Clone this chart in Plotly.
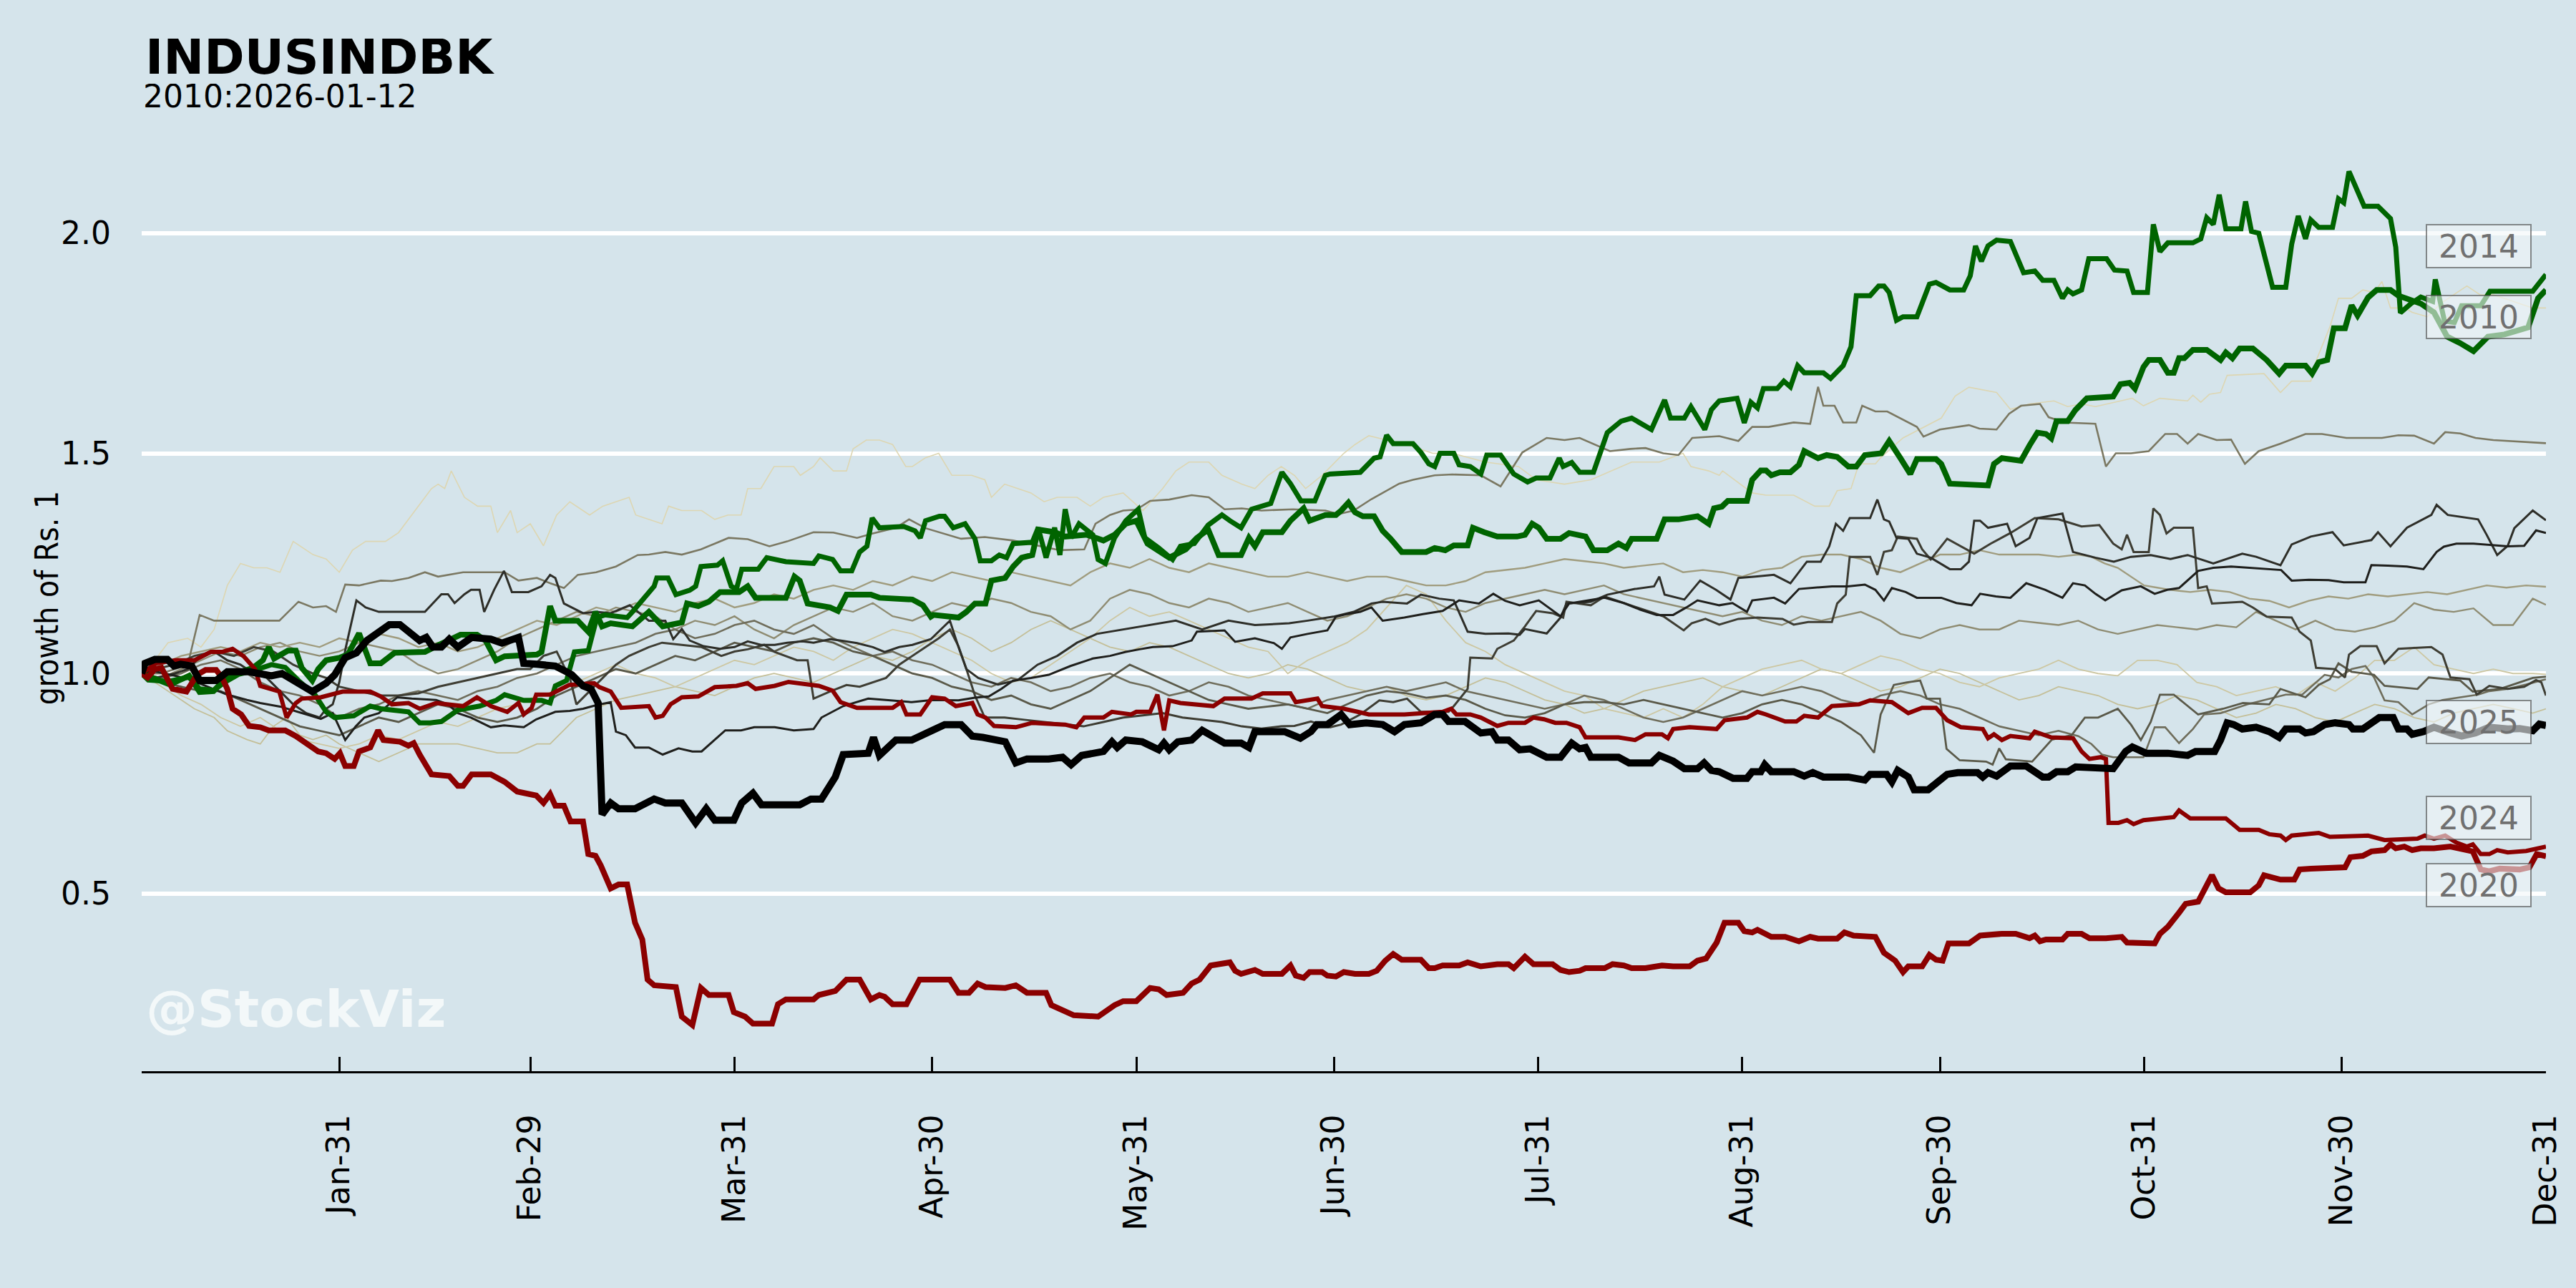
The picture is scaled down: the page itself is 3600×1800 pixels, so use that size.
import plotly.graph_objects as go

# ---------------- data (day-of-year, growth of Rs. 1) ----------------
tick_days = [31, 60, 91, 121, 152, 182, 213, 244, 274, 305, 335, 366]
tick_labels = ["Jan-31", "Feb-29", "Mar-31", "Apr-30", "May-31", "Jun-30",
               "Jul-31", "Aug-31", "Sep-30", "Oct-31", "Nov-30", "Dec-31"]

d2025 = [1,1.5,3.0,4.9,5.9,6.9,8.6,9.8,12.3,14.0,17.3,20.7,22.3,24.8,26.9,29.0,30.3,31.9,33.6,35.2,37.3,38.6,40.2,41.5,43.2,44.2,45.2,46.5,47.7,49.0,51.1,54.0,55.7,58.2,59.0,61.0,
         63.0,63.8,65.5,66.3,68.0,69.2,70.3,70.9,72.2,73.4,75.9,78.8,80.5,83.0,85.1,86.7,88.0,90.9,92.1,93.8,95.1,97.1,100.9,102.6,104.2,106.3,107.5,111.3,112.1,113.0,114.6,115.5,
         117.9,120.4,122.9,125.4,127.1,128.7,130.4,132.1,133.7,135.4,138.7,140.8,142.1,143.7,147.0,148.3,149.1,150.4,152.9,154.5,155.4,156.2,157.0,158.3,160.4,162.0,163.7,165.4,167.9,169.1,170.0,171.6,174.5,
         176.9,178.5,179.4,181.0,183.1,184.4,186.9,189.4,191.2,192.7,195.2,197.3,198.5,199.4,201.9,204.3,206.0,206.8,208.5,210.2,211.8,213.5,214.3,216.4,218.1,219.3,220.2,221.0,225.2,226.8,230.2,231.4,233.5,235.2,
         237.2,238.2,239.3,240.5,242.6,244.7,245.5,246.8,247.4,248.4,251.8,253.4,254.7,256.3,260.1,262.6,263.4,265.9,266.7,267.6,269.2,270.1,272.2,275.1,276.7,279.7,280.5,281.3,282.6,284.7,287.1,289.6,290.5,291.7,293.4,294.6,297.6,300.3,
         302.2,303.2,305.3,308.6,311.6,312.8,315.7,316.6,317.6,318.6,319.9,322.0,324.0,325.5,326.5,328.6,329.5,330.7,332.4,334.0,336.1,336.7,338.2,339.9,340.7,342.8,343.6,344.9,345.7,347.4,349.0,351.5,353.2,355.3,357.4,360.2,362.0,364.0,365.0,366]
v2025 = [1.0,1.023,1.032,1.032,1.017,1.021,1.017,0.984,0.984,1.004,1.004,0.995,1.0,0.978,0.959,0.978,0.997,1.036,1.047,1.075,1.095,1.111,1.111,1.095,1.075,1.082,1.06,1.06,1.078,1.06,1.082,1.078,1.069,1.082,1.023,1.021,
         1.021,1.017,1.004,0.997,0.972,0.965,0.933,0.68,0.706,0.693,0.693,0.715,0.706,0.706,0.661,0.693,0.667,0.667,0.706,0.728,0.702,0.702,0.702,0.715,0.715,0.765,0.816,0.819,0.855,0.814,0.836,0.849,
         0.849,0.868,0.884,0.884,0.858,0.855,0.849,0.845,0.797,0.806,0.806,0.810,0.793,0.814,0.823,0.845,0.832,0.849,0.845,0.836,0.827,0.842,0.827,0.845,0.849,0.871,0.858,0.842,0.842,0.832,0.868,0.868,0.868,
         0.853,0.868,0.884,0.884,0.907,0.884,0.888,0.884,0.868,0.884,0.888,0.907,0.907,0.891,0.891,0.865,0.868,0.849,0.849,0.827,0.829,0.819,0.810,0.810,0.842,0.829,0.832,0.810,0.810,0.797,0.797,0.814,0.801,0.784,
         0.784,0.797,0.780,0.777,0.762,0.762,0.777,0.777,0.793,0.777,0.777,0.767,0.775,0.765,0.765,0.758,0.771,0.771,0.754,0.780,0.765,0.736,0.736,0.771,0.775,0.775,0.765,0.775,0.767,0.790,0.790,0.765,0.765,0.777,0.777,0.788,0.788,0.784,
         0.823,0.833,0.819,0.819,0.814,0.823,0.823,0.849,0.888,0.884,0.874,0.878,0.868,0.855,0.874,0.874,0.865,0.868,0.884,0.888,0.884,0.874,0.874,0.894,0.900,0.900,0.874,0.874,0.862,0.868,0.878,0.865,0.858,0.865,0.878,0.874,0.875,0.870,0.885,0.882]

d2020 = [1,1.9,3.0,4.0,5.7,7.8,8.6,9.4,10.7,12.3,13.2,14.0,14.8,16.1,17.3,19.0,20.3,22.8,24.4,26.5,27.8,29.0,30.3,31.1,31.9,33.2,34.0,35.7,36.9,37.7,40.2,41.5,42.3,43.2,45.0,47.7,49.0,49.8,51.1,54.0,56.1,58.0,
         60.9,62.0,63.0,63.8,65.1,66.1,68.0,68.8,69.9,70.7,72.2,73.4,74.7,75.9,77.0,77.8,78.8,82.1,83.0,84.6,85.9,87.1,90.1,90.9,92.6,93.8,96.7,97.6,98.8,103.0,103.8,106.3,108.0,110.0,111.7,113.0,113.8,115.0,117.1,
         119.1,123.7,125.0,126.6,127.9,129.1,132.1,133.7,135.4,138.3,139.1,142.5,146.2,148.7,150.0,152.0,154.1,155.4,156.6,159.1,160.4,161.6,163.3,166.2,167.0,167.9,170.0,171.2,174.1,175.4,176.2,177.4,178.3,
         180.2,181.0,182.3,183.5,185.2,187.3,188.5,189.8,191.0,192.3,195.2,196.4,197.3,198.5,201.0,202.3,204.3,206.8,208.5,209.3,211.0,212.3,215.2,216.4,217.7,219.3,220.2,223.1,224.3,226.0,227.2,229.3,231.8,233.5,236.0,237.2,238.5,
         240.1,241.3,243.4,244.3,245.5,246.3,248.4,250.5,252.6,254.3,255.5,258.4,259.5,260.9,264.2,265.5,267.2,268.4,269.2,271.3,272.4,273.4,274.4,275.3,278.4,280.1,283.4,285.5,287.6,288.4,289.2,290.1,292.6,293.4,295.5,296.7,299.2,
         301.6,302.4,306.6,307.4,308.6,310.3,311.3,313.2,314.1,315.3,316.3,317.4,321.1,322.4,323.2,325.7,327.8,328.6,330.3,332.8,335.5,336.3,338.2,339.5,341.5,342.4,343.2,344.5,345.7,347.0,349.0,351.5,353.2,354.9,356.1,357.4,359.0,360.2,362.0,363.5,364.6,366]
v2020 = [1.0,0.991,1.010,1.013,0.965,0.959,0.978,0.997,1.008,1.008,0.991,0.965,0.920,0.907,0.881,0.878,0.871,0.871,0.858,0.836,0.823,0.819,0.806,0.819,0.790,0.790,0.823,0.832,0.871,0.849,0.845,0.836,0.842,0.816,0.771,0.767,0.745,0.745,0.771,0.771,0.754,0.732,
         0.723,0.706,0.726,0.700,0.700,0.664,0.664,0.590,0.586,0.564,0.512,0.521,0.521,0.434,0.396,0.305,0.292,0.288,0.221,0.202,0.286,0.270,0.270,0.231,0.221,0.205,0.205,0.249,0.260,0.260,0.270,0.279,0.305,0.305,0.260,0.270,0.266,0.249,0.249,
         0.305,0.305,0.275,0.275,0.296,0.288,0.286,0.292,0.275,0.275,0.247,0.224,0.221,0.247,0.256,0.256,0.286,0.283,0.270,0.275,0.296,0.305,0.337,0.344,0.325,0.318,0.327,0.318,0.318,0.337,0.314,0.309,0.322,
         0.322,0.314,0.312,0.322,0.318,0.318,0.325,0.348,0.363,0.350,0.350,0.331,0.331,0.337,0.337,0.344,0.335,0.340,0.340,0.331,0.357,0.340,0.340,0.327,0.322,0.325,0.331,0.331,0.340,0.337,0.331,0.331,0.337,0.335,0.335,0.348,0.353,
         0.389,0.434,0.434,0.415,0.412,0.418,0.402,0.402,0.392,0.402,0.398,0.398,0.412,0.405,0.402,0.366,0.348,0.322,0.335,0.335,0.361,0.350,0.348,0.387,0.387,0.405,0.409,0.409,0.399,0.405,0.392,0.396,0.396,0.409,0.409,0.399,0.399,
         0.402,0.389,0.387,0.409,0.425,0.457,0.477,0.482,0.506,0.542,0.512,0.503,0.503,0.519,0.542,0.532,0.532,0.555,0.557,0.560,0.560,0.583,0.586,0.596,0.599,0.612,0.603,0.607,0.599,0.603,0.603,0.607,0.603,0.596,0.555,0.551,0.557,0.557,0.555,0.56,0.59,0.585]

d2024 = [1,3.2,6.1,9.0,11.5,13.2,14.8,16.5,18.2,19.0,21.9,23.0,24.4,25.3,28.2,31.5,35.7,37.3,39.0,41.5,43.2,45.7,49.8,51.9,54.0,56.5,58.2,59.0,60.2,
         60.9,63.0,65.9,69.7,70.5,72.2,73.8,78.0,79.0,80.1,81.3,83.0,85.5,88.0,91.3,93.0,94.2,97.1,99.2,103.8,105.9,107.1,109.6,115.0,116.3,117.1,119.2,121.0,
         122.9,124.6,127.1,127.9,129.1,130.4,133.7,136.2,141.2,142.9,144.1,147.0,148.3,151.2,152.0,154.1,155.2,156.2,157.0,158.7,163.7,165.4,169.5,171.2,175.4,176.2,179.5,
         180.2,183.5,185.6,187.3,192.7,198.5,199.8,200.6,202.7,204.3,206.8,208.5,211.0,212.3,213.9,215.6,217.3,219.3,220.2,225.2,227.7,229.3,231.8,232.7,233.5,236.0,
         240.1,241.3,244.7,246.3,247.6,250.5,252.2,253.4,255.5,257.6,261.7,263.4,266.7,268.4,269.2,271.3,273.4,275.1,277.2,280.5,281.3,282.2,283.4,284.7,287.6,288.4,290.9,294.2,295.5,296.7,298.4,299.2,
         299.6,301.1,302.4,303.4,304.9,309.5,310.3,312.0,317.4,319.5,322.4,324.0,325.7,326.5,327.4,331.5,333.2,339.0,341.5,346.5,347.6,349.0,350.7,352.4,354.0,354.9,356.1,357.4,358.6,360.2,363.0,366]
v2024 = [1.0,1.023,1.030,1.030,1.049,1.049,1.056,1.039,1.010,0.972,0.959,0.900,0.933,0.943,0.946,0.959,0.959,0.948,0.930,0.933,0.920,0.933,0.926,0.946,0.926,0.913,0.933,0.907,0.922,
         0.952,0.952,0.974,0.978,0.969,0.959,0.922,0.926,0.900,0.904,0.930,0.946,0.948,0.969,0.972,0.978,0.965,0.972,0.981,0.972,0.961,0.935,0.922,0.922,0.935,0.907,0.907,0.946,
         0.943,0.926,0.933,0.907,0.900,0.881,0.878,0.888,0.884,0.878,0.900,0.900,0.913,0.907,0.913,0.913,0.952,0.871,0.939,0.933,0.926,0.943,0.943,0.955,0.955,0.935,0.943,
         0.926,0.920,0.913,0.907,0.907,0.913,0.920,0.907,0.907,0.900,0.881,0.888,0.888,0.900,0.896,0.888,0.888,0.878,0.855,0.855,0.849,0.862,0.862,0.853,0.874,0.878,
         0.874,0.894,0.900,0.913,0.907,0.891,0.891,0.904,0.900,0.926,0.930,0.939,0.935,0.917,0.910,0.922,0.922,0.894,0.878,0.874,0.853,0.862,0.849,0.858,0.853,0.868,0.855,0.853,0.823,0.806,0.810,0.806,
         0.661,0.661,0.667,0.658,0.667,0.674,0.689,0.671,0.671,0.645,0.645,0.635,0.632,0.622,0.632,0.638,0.629,0.632,0.622,0.625,0.632,0.625,0.632,0.616,0.607,0.612,0.590,0.590,0.599,0.594,0.597,0.607]

d2014 = [1,2,5,8.2,9.8,11.9,13.6,15.7,17.8,20.7,22.8,24.8,27.3,29.0,30.3,33.2,35.7,37.3,41.5,43.2,44.8,46.5,49.0,52.3,54.8,56.1,59.0,61.7,
         63.0,63.8,65.5,66.7,68.8,70.1,71.3,74.7,75.5,77.2,78.8,79.2,80.9,82.1,84.2,85.1,85.9,88.4,89.2,90.5,91.3,92.1,94.6,95.9,98.8,103.0,103.8,105.9,107.1,108.8,110.0,111.1,111.9,113.0,116.7,
         118.4,119.2,120.0,122.1,122.9,124.2,126.0,127.5,128.3,130.0,131.2,132.3,133.3,136.2,137.1,138.3,139.6,140.4,141.2,142.1,143.3,145.4,146.2,147.3,148.7,150.4,152.3,153.3,155.4,157.5,158.7,160.8,162.9,165.0,166.2,167.9,169.5,172.4,174.1,175.4,177.0,179.1,180.7,
         181.4,186.0,188.1,189.0,190.0,191.0,194.0,195.2,196.4,197.3,198.1,200.2,201.0,202.7,204.3,205.2,207.3,209.3,211.4,212.7,214.8,216.2,216.8,218.1,219.3,221.4,222.7,223.5,225.6,227.2,230.2,231.8,232.2,233.1,235.2,236.2,238.3,239.3,
         240.5,243.2,244.3,245.3,246.3,247.2,249.3,250.3,251.3,252.4,253.4,256.3,257.4,259.3,260.5,261.3,263.4,264.7,265.5,266.3,267.4,268.4,270.5,272.4,273.4,275.5,277.6,278.6,279.4,280.3,281.3,282.6,284.7,286.7,288.4,289.6,291.3,292.6,293.4,294.2,295.5,
         296.6,299.3,300.5,302.4,303.4,305.5,306.4,307.4,308.6,312.4,313.6,314.5,315.5,316.4,317.4,319.7,320.4,321.3,322.4,324.5,326.5,327.4,328.4,329.5,330.3,331.5,333.6,334.5,335.3,336.1,338.4,340.5,342.4,343.2,343.9,345.5,347.0,348.8,349.2,350.6,352.1,353.2,356.1,357.5,364.0,366]
v2014 = [1.0,0.985,0.982,0.992,0.965,0.962,0.980,0.998,1.006,1.02,1.014,0.984,0.952,0.913,0.900,0.904,0.926,0.920,0.913,0.888,0.888,0.891,0.917,0.926,0.939,0.952,0.939,0.939,
         0.933,0.972,0.984,1.049,1.052,1.127,1.133,1.127,1.140,1.172,1.198,1.217,1.217,1.179,1.189,1.198,1.243,1.246,1.256,1.198,1.192,1.237,1.237,1.263,1.254,1.250,1.267,1.259,1.233,1.233,1.276,1.289,1.353,1.331,1.334,
         1.324,1.308,1.347,1.357,1.357,1.331,1.340,1.306,1.256,1.256,1.269,1.263,1.295,1.298,1.331,1.263,1.331,1.269,1.373,1.308,1.340,1.315,1.259,1.250,1.308,1.347,1.373,1.308,1.285,1.259,1.289,1.295,1.337,1.360,1.347,1.331,1.373,1.386,1.457,1.431,1.392,1.392,1.450,
         1.453,1.457,1.489,1.492,1.541,1.522,1.522,1.502,1.476,1.470,1.500,1.500,1.474,1.470,1.453,1.496,1.496,1.453,1.435,1.444,1.444,1.489,1.470,1.479,1.457,1.457,1.509,1.547,1.573,1.580,1.554,1.612,1.621,1.580,1.580,1.606,1.554,1.599,
         1.619,1.625,1.569,1.616,1.603,1.647,1.647,1.664,1.651,1.699,1.683,1.683,1.670,1.699,1.742,1.858,1.858,1.880,1.880,1.865,1.802,1.810,1.810,1.884,1.888,1.871,1.871,1.903,1.971,1.936,1.971,1.984,1.981,1.910,1.914,1.893,1.893,1.852,1.871,1.862,1.871,
         1.942,1.942,1.916,1.914,1.865,1.865,2.020,1.958,1.978,1.978,1.987,2.035,2.020,2.087,2.010,2.010,2.072,2.004,2.0,1.877,1.877,1.975,2.039,1.987,2.030,2.013,2.013,2.078,2.069,2.14,2.061,2.061,2.033,1.968,1.819,1.84,1.855,1.845,1.895,1.80,1.797,1.835,1.835,1.868,1.868,1.906]

d2010 = [1,5.3,8.2,9.8,11.9,13.6,15.7,17.8,19.4,20.3,21.1,23.2,24.4,25.3,26.9,27.8,29.0,31.1,32.3,34.0,35.7,37.3,39.4,44.0,45.7,49.4,51.9,53.2,54.8,56.1,61.0,
         61.7,63.0,63.8,67.2,68.8,69.9,70.9,72.2,75.5,78.0,80.1,83.0,83.8,85.5,87.1,88.8,91.7,93.0,94.2,98.8,100.1,100.9,102.1,105.5,106.7,108.0,111.7,113.0,118.0,119.6,120.8,
         121.2,125.0,126.2,127.5,129.1,130.0,132.1,133.3,134.6,136.2,137.1,139.6,141.2,144.5,147.0,148.7,150.4,152.0,153.7,156.2,157.0,159.5,161.2,162.9,164.5,167.9,169.1,170.0,171.2,174.1,175.4,177.4,178.3,180.7,
         182.3,183.1,184.2,185.2,186.4,188.1,189.4,190.6,192.3,196.0,197.3,198.9,200.2,202.3,203.1,204.8,206.8,209.8,211.0,212.1,213.1,214.3,216.4,217.7,220.2,221.4,223.5,225.2,226.4,227.2,231.0,232.2,234.3,237.2,238.9,239.7,
         240.9,241.8,244.7,245.5,246.8,247.6,248.4,249.7,251.3,252.6,253.4,255.5,256.8,258.4,260.1,261.3,262.6,265.1,266.3,268.0,269.5,270.5,273.4,274.2,275.5,281.3,282.2,283.4,286.3,287.6,288.8,290.1,290.9,291.7,293.4,294.6,296.3,
         300.3,301.4,302.8,303.6,304.9,305.7,307.4,308.6,309.5,310.3,311.1,312.4,314.5,316.6,317.4,318.4,319.5,321.5,323.6,325.5,326.5,329.5,330.5,331.5,332.8,333.2,333.8,335.5,336.5,337.4,339.0,340.3,342.4,343.6,345,347,349,351,353,355,357.2,359.7,363.3,364.8,366]
v2010 = [1.0,0.975,0.995,0.958,0.96,0.986,1.002,1.012,1.030,1.060,1.034,1.052,1.052,1.013,0.984,1.010,1.030,1.036,1.043,1.091,1.023,1.023,1.047,1.049,1.062,1.088,1.088,1.075,1.030,1.039,1.043,
         1.049,1.153,1.120,1.120,1.095,1.140,1.107,1.114,1.107,1.140,1.107,1.116,1.159,1.153,1.163,1.185,1.185,1.198,1.172,1.172,1.220,1.211,1.159,1.150,1.142,1.179,1.179,1.172,1.168,1.155,1.129,
         1.133,1.127,1.140,1.159,1.159,1.211,1.217,1.243,1.263,1.269,1.327,1.321,1.311,1.315,1.302,1.315,1.340,1.347,1.295,1.269,1.263,1.282,1.308,1.327,1.269,1.269,1.308,1.289,1.321,1.321,1.347,1.375,1.347,1.360,
         1.360,1.370,1.388,1.366,1.357,1.357,1.324,1.306,1.276,1.276,1.285,1.280,1.291,1.291,1.331,1.321,1.311,1.311,1.315,1.340,1.331,1.306,1.306,1.319,1.311,1.280,1.280,1.295,1.285,1.306,1.306,1.350,1.350,1.357,1.340,1.375,
         1.379,1.392,1.392,1.440,1.461,1.461,1.450,1.457,1.457,1.474,1.505,1.489,1.496,1.492,1.470,1.470,1.496,1.500,1.528,1.489,1.453,1.487,1.487,1.476,1.431,1.427,1.476,1.489,1.483,1.518,1.547,1.544,1.534,1.573,1.573,1.599,1.625,
         1.629,1.657,1.660,1.647,1.696,1.712,1.712,1.683,1.683,1.716,1.716,1.735,1.735,1.712,1.729,1.716,1.738,1.738,1.712,1.681,1.699,1.699,1.681,1.707,1.712,1.742,1.784,1.784,1.836,1.813,1.854,1.871,1.871,1.858,1.85,1.84,1.82,1.765,1.75,1.732,1.765,1.77,1.786,1.852,1.871]

# other years (background lines)
d2017 = [1,3,5,8,10,12,14,16,18,20,22,24,27,29,31,33,35,38,40,43,45,46,47,48,50,52,54,55,57,58,60,62,64,66,67,69,71,73,75,76,78,80,81,83,86,88,90,92,93,95,97,100,101,103,104,106,108,109,111,113,115,117,118,120,122,124,127,129,130,132,134,136,138,140,143,145,147,150,153,156,158,160,163,165,168,170,172,174,176,
         177.7,180.2,183.5,185.2,187.3,190,193,197,200,205,210,212.7,217,221,227.2,231.4,235,236.2,238.9,240.5,241,245.5,247.6,251.8,255,257.2,258.4,260.5,261.7,264.2,265,268.4,274.2,276.3,278.4,282.6,284.7,287.6,291.3,293.4,295.5,297.6,
         303.2,304.9,307.4,311.6,312.4,313.6,314.9,316.6,317.6,323.2,325.7,327.4,330.3,331.1,333.2,334.5,336.5,338.2,339.9,341.1,342.4,344.5,345.7,348,350,352,354,356,358,360,362,364,366]
v2017 = [1.0,1.03,1.07,1.08,1.06,1.1,1.2,1.25,1.24,1.24,1.23,1.3,1.27,1.26,1.23,1.28,1.3,1.3,1.32,1.38,1.42,1.43,1.42,1.46,1.4,1.38,1.38,1.32,1.37,1.32,1.34,1.29,1.36,1.39,1.38,1.36,1.38,1.39,1.4,1.36,1.35,1.34,1.38,1.37,1.37,1.35,1.36,1.36,1.42,1.42,1.47,1.47,1.45,1.47,1.49,1.46,1.46,1.51,1.53,1.53,1.52,1.47,1.47,1.49,1.5,1.45,1.45,1.44,1.4,1.43,1.42,1.41,1.39,1.4,1.4,1.38,1.4,1.41,1.37,1.42,1.46,1.48,1.48,1.45,1.43,1.42,1.45,1.47,1.45,
         1.42,1.45,1.5,1.52,1.54,1.53,1.52,1.5,1.5,1.48,1.47,1.44,1.43,1.44,1.48,1.48,1.5,1.47,1.46,1.45,1.46,1.41,1.405,1.405,1.38,1.38,1.415,1.42,1.476,1.476,1.49,1.535,1.58,1.63,1.65,1.638,1.6,1.612,1.619,1.606,1.612,1.606,
         1.625,1.608,1.625,1.619,1.632,1.616,1.634,1.638,1.677,1.681,1.638,1.664,1.664,1.71,1.787,1.852,1.852,1.871,1.865,1.89,1.83,1.83,1.82,1.81,1.84,1.86,1.88,1.86,1.86,1.85,1.84,1.83,1.83]

d2023 = [1,4,8,9.8,12,14.8,18,21.9,24.8,27,29,30.5,31.9,34,37.3,39,41.5,44,46,49.8,53,56.1,58.2,61,63,65.1,67.2,70,73,76.3,78,80.5,83,85.9,88,90.1,93,96.3,99,103,106,109.6,112,115.5,117.5,120,125.4,129,133.3,137,140.4,144.1,145.8,148,150,152,154.1,157,160.4,163,165.4,168,171,175.8,180.7,182.7,185,187.7,191.9,194,197.3,200,204.3,207.3,210.6,214.3,217,219.3,223.9,227,229.3,232,234.3,236.4,240.5,243.4,245.5,248,251.8,254.3,255.5,256.3,258,259.3,261.3,262.2,264.2,266,268,270.5,271.5,274,278.4,280,282.6,284.5,286.3,289.2,290.5,293,297.6,299.2,300.7,303,305.7,308.2,310,311.6,313.2,316,318.2,320.3,322.4,325.7,329.5,332,335.7,338,341.1,343.6,346,349,350.7,353,355.3,358,360.2,363,366]
v2023 = [1.0,1.0,1.02,1.133,1.12,1.12,1.12,1.12,1.163,1.15,1.153,1.14,1.202,1.2,1.211,1.21,1.217,1.23,1.22,1.23,1.23,1.23,1.211,1.217,1.205,1.194,1.224,1.23,1.243,1.269,1.27,1.276,1.27,1.282,1.295,1.308,1.305,1.289,1.3,1.321,1.32,1.308,1.318,1.331,1.35,1.33,1.306,1.31,1.302,1.29,1.28,1.282,1.34,1.36,1.37,1.372,1.392,1.395,1.405,1.4,1.373,1.375,1.37,1.373,1.37,1.362,1.37,1.396,1.431,1.44,1.45,1.452,1.45,1.425,1.502,1.535,1.53,1.535,1.505,1.51,1.512,1.5,1.496,1.535,1.539,1.528,1.56,1.56,1.57,1.567,1.651,1.608,1.608,1.57,1.57,1.608,1.595,1.595,1.58,1.56,1.538,1.554,1.564,1.556,1.554,1.59,1.608,1.612,1.582,1.57,1.567,1.47,1.5,1.5,1.505,1.544,1.544,1.522,1.544,1.53,1.531,1.476,1.505,1.522,1.544,1.544,1.535,1.535,1.535,1.541,1.54,1.522,1.548,1.545,1.535,1.53,1.528,1.525,1.523]

d2021 = [1,3,6,8,10,12,14,16,18,20,22,24,26,28,29,30,31,32,33.6,35,37,40,42,44,46.5,47.5,48.5,50,51,52.3,53,54.5,56,57.2,59.7,61.7,63,63.8,65.1,68,70,72.2,75.1,78,80.5,81.7,83,84.2,86.3,88.8,91,93,95,97.1,99,101.3,103,105.5,107,109.6,112,113.8,116,118,120.8,123.7,125,126.2,128,131,134,137,140,143,146,150,154,158,162,166,170,175.2,178,181.9,185,187.7,189.4,193.1,195.2,198,200.2,201,202.3,205,208.5,210.2,211,214.3,216.4,217.3,221,223.5,227.7,230.6,231.4,232.2,235.2,237.6,240,242.2,243.4,246,248.8,251.3,253.8,255.9,257.2,258.2,259.3,260.3,263.4,264.5,265.5,266.3,267.4,269.2,270.5,272.6,275.5,277.2,278.4,279.2,280.1,281.3,284.2,285.5,287.6,288.8,292.6,294.2,297.6,300.4,303,306,309,311.6,315.5,319.9,322,325.7,327.4,330.3,333.6,335.3,339.5,340.5,342.4,344.9,348.6,349.4,351.1,355.7,357,358.6,360.2,361.2,364,366]
v2021 = [1.0,0.99,1.0,1.01,1.04,1.05,1.03,1.02,1.0,0.99,0.96,0.93,0.91,0.9,0.92,0.93,0.98,1.06,1.166,1.15,1.14,1.14,1.14,1.14,1.18,1.18,1.16,1.18,1.19,1.19,1.14,1.19,1.233,1.185,1.185,1.198,1.224,1.217,1.159,1.137,1.14,1.137,1.155,1.12,1.12,1.078,1.101,1.075,1.062,1.056,1.06,1.073,1.065,1.065,1.07,1.073,1.07,1.078,1.075,1.069,1.06,1.049,1.06,1.065,1.078,1.12,1.06,1.01,0.99,0.975,0.985,1.02,1.04,1.07,1.09,1.1,1.11,1.12,1.1,1.12,1.11,1.114,1.12,1.129,1.14,1.159,1.163,1.159,1.179,1.17,1.166,1.14,1.095,1.09,1.091,1.088,1.101,1.091,1.127,1.159,1.163,1.179,1.192,1.198,1.22,1.179,1.168,1.211,1.19,1.168,1.217,1.22,1.224,1.205,1.254,1.254,1.289,1.34,1.324,1.353,1.353,1.395,1.35,1.345,1.308,1.306,1.272,1.263,1.237,1.237,1.254,1.347,1.347,1.331,1.34,1.289,1.308,1.353,1.363,1.276,1.263,1.254,1.265,1.269,1.26,1.269,1.25,1.272,1.265,1.246,1.293,1.311,1.321,1.291,1.303,1.321,1.289,1.331,1.36,1.383,1.36,1.35,1.315,1.269,1.29,1.33,1.37,1.348]

d2019 = [1,3,6,8.2,11,14,17,19,22,24.8,26.5,28.2,30,31.9,33.5,34.8,37,39.8,42,45.7,47.5,49,51,54,56,59,60.9,63.8,66,68,70,72.2,73,74.5,75.9,78,80.1,82.5,84.6,86,88,89.6,92,94,97.1,100,103,104.2,107.5,111.3,114,117.9,121,125,127.5,129.6,131.5,133.3,136,138.7,142,145.4,148,150.4,152.5,154.5,157.5,160.4,161.2,163.5,165.4,167,170,172.9,174.1,175.4,178,181,182.3,184,186,187.7,189.4,192.7,195.5,198.5,201,204,206.2,208,210.2,213.1,216.4,217.7,220,223.1,226,228.5,231,233.5,235.5,237.2,240.5,242.5,244.7,245.5,248.8,250.5,252.6,255,257.6,260,262.6,264.2,265.5,266.7,268.8,270.5,274.2,276.5,278.8,280.1,282.5,284.7,287.1,290,292.6,294.2,296,297.6,299.1,301.6,304.5,306.6,308.5,310.3,313.2,315.5,318.2,321,324,325.8,327.4,330,333,335.3,338.6,339.5,342,344.9,347.4,349.4,350.5,352.4,355,357.5,360.2,362.7,364.5,366]
v2019 = [1.0,1.005,0.995,0.987,0.97,0.952,0.94,0.933,0.925,0.913,0.905,0.897,0.91,0.849,0.88,0.9,0.91,0.946,0.943,0.94,0.93,0.91,0.9,0.878,0.882,0.878,0.896,0.913,0.915,0.92,0.928,0.935,0.868,0.86,0.832,0.832,0.816,0.83,0.823,0.823,0.849,0.871,0.871,0.878,0.878,0.871,0.874,0.9,0.926,0.943,0.94,0.935,0.94,0.939,0.945,0.948,0.965,0.984,0.99,0.997,1.017,1.034,1.04,1.049,1.055,1.06,1.062,1.075,1.095,1.096,1.098,1.072,1.08,1.069,1.056,1.082,1.09,1.098,1.129,1.135,1.14,1.15,1.12,1.127,1.135,1.142,1.166,1.159,1.181,1.165,1.155,1.166,1.13,1.159,1.165,1.172,1.16,1.145,1.133,1.133,1.15,1.166,1.155,1.16,1.14,1.166,1.172,1.159,1.192,1.195,1.198,1.198,1.202,1.19,1.166,1.194,1.185,1.172,1.172,1.16,1.155,1.181,1.175,1.172,1.205,1.19,1.172,1.205,1.2,1.181,1.166,1.189,1.198,1.181,1.19,1.194,1.233,1.24,1.243,1.24,1.237,1.235,1.211,1.213,1.212,1.207,1.207,1.246,1.245,1.243,1.237,1.276,1.288,1.295,1.295,1.292,1.289,1.29,1.325,1.319]

d2018 = [1,3,6,9,12,15,18,21,24,27,29,31,34,37,40,43,46,49,52,55,58,60,62,64,66,67,69,71,73,75,78,80,83,86,89,91,93,95.5,97.1,100.5,102.1,103,105.5,108,110,112,114,116,118,120,122,123.7,125,126.2,127.5,129,132,135,138,141,144,147,150,153,156,159,162,165,168,171,174,176,178.5,181.4,183.1,186,188.9,191,193.1,195.2,199.4,200.2,202.3,202.7,206,206.8,209.3,211,212.7,215.2,216.8,217.3,221,223.1,226,228,232,235.1,236.3,238.4,240.5,243.4,246.3,250.1,251.8,254,257.6,258.4,259.7,260.3,263.4,264.5,265.5,266.7,267.6,270.5,271.3,272.6,275.1,278,279.2,281.7,284.7,288.4,292,294.2,295.5,298.2,300.3,301.6,302.4,303.4,305.7,306.4,307.4,308.4,309.5,312.4,313.2,314.5,315.3,319.9,321.5,323.6,327.4,328.6,330.3,331.1,334,335.5,336.1,337.8,340.3,341.5,343.6,346,348.6,350.3,351.5,354.4,355.5,357.4,360.2,362.7,364.5,365.3,366]
v2018 = [1.0,1.01,1.02,1.04,1.05,1.04,1.06,1.05,1.02,1.0,0.99,0.97,0.96,0.95,0.95,0.955,0.97,0.98,0.99,1.0,1.01,1.01,1.04,1.05,0.99,0.93,0.96,0.99,1.02,1.04,1.06,1.07,1.065,1.06,1.04,1.05,1.055,1.065,1.049,1.03,1.03,0.943,0.959,0.974,0.97,0.98,0.99,1.02,1.04,1.06,1.08,1.1,1.062,1.01,0.95,0.9,0.9,0.895,0.89,0.885,0.88,0.89,0.9,0.905,0.91,0.9,0.895,0.89,0.88,0.875,0.88,0.881,0.891,0.878,0.884,0.907,0.939,0.935,0.943,0.913,0.913,0.926,0.965,1.036,1.034,1.056,1.075,1.107,1.142,1.137,1.127,1.163,1.155,1.175,1.16,1.15,1.13,1.098,1.114,1.124,1.111,1.124,1.127,1.124,1.111,1.117,1.117,1.159,1.179,1.265,1.265,1.224,1.276,1.28,1.311,1.306,1.282,1.259,1.306,1.282,1.272,1.295,1.319,1.353,1.35,1.34,1.334,1.337,1.295,1.282,1.315,1.276,1.276,1.375,1.36,1.318,1.331,1.331,1.194,1.198,1.159,1.163,1.15,1.129,1.127,1.095,1.075,1.013,1.01,0.991,1.043,1.062,1.062,1.023,1.056,1.058,1.06,1.043,0.991,0.987,0.952,0.972,0.965,0.97,0.985,0.98,0.95]

d2013 = [1,4,7,10,13,16,19,22,25,28,31,34,37,40,43,46,49,52,55,58,61,64,67,70,73,76,79,82,85,88,91,94,97,100,103,106,109,112,115,118,121,124,127,130,133,136,139,142,145,148,151,154,157,160,163,166,169,172,175,178,181,184,187,190,193,196,199,202,205,208,211,214,217,220,223,226,229,232,235,238,241,244,247,250,253,256,259,262,265,268,271,274,277,280,283,286,289,292,295,297,299,301,303,305,307,309,312,315,318,321,324,327,330,333,336,339,342,345,348,351,354,357,360,363,366]
v2013 = [1.0,1.02,1.04,1.05,1.06,1.05,1.07,1.06,1.07,1.06,1.08,1.07,1.09,1.08,1.06,1.07,1.05,1.06,1.08,1.1,1.12,1.11,1.13,1.15,1.14,1.16,1.15,1.14,1.16,1.17,1.15,1.16,1.18,1.17,1.19,1.2,1.19,1.21,1.2,1.22,1.21,1.23,1.22,1.21,1.23,1.22,1.21,1.2,1.23,1.25,1.24,1.26,1.24,1.23,1.25,1.24,1.23,1.22,1.22,1.23,1.22,1.21,1.22,1.22,1.21,1.2,1.2,1.21,1.23,1.235,1.24,1.25,1.26,1.255,1.25,1.24,1.245,1.25,1.23,1.235,1.23,1.22,1.235,1.24,1.265,1.27,1.27,1.26,1.24,1.23,1.25,1.27,1.27,1.28,1.27,1.27,1.27,1.265,1.27,1.265,1.25,1.24,1.22,1.2,1.195,1.19,1.185,1.19,1.185,1.17,1.165,1.15,1.165,1.175,1.17,1.18,1.175,1.18,1.185,1.18,1.19,1.2,1.195,1.2,1.197]

d2016 = [1,4,7,10,13,16,19,22,25,28,31,34,37,40,43,46,49,52,55,58,61,64,67,70,73,76,79,82,85,88,91,94,97,100,103,106,109,112,115,118,121,124,127,130,133,136,139,142,145,148,151,154,157,160,163,166,169,172,175,178,181,184,187,190,193,196,199,202,205,208,211,214,217,220,223,226,229,232,235,238,241,244,247,250,253,256,259,262,265,268,271,274,277,280,283,286,289,292,295,298,301,304,307,310,313,316,319,322,325,328,331,334,337,340,343,346,349,352,355,358,361,364,366]
v2016 = [1.0,0.99,1.01,1.03,1.05,1.04,1.06,1.07,1.05,1.04,1.05,1.07,1.06,1.05,1.02,1.0,1.01,1.03,1.05,1.08,1.1,1.12,1.14,1.13,1.15,1.14,1.13,1.1,1.12,1.11,1.13,1.1,1.08,1.11,1.13,1.15,1.14,1.16,1.13,1.12,1.14,1.16,1.15,1.17,1.16,1.14,1.13,1.1,1.12,1.17,1.19,1.18,1.16,1.15,1.17,1.16,1.14,1.15,1.16,1.14,1.12,1.13,1.15,1.17,1.18,1.17,1.15,1.14,1.16,1.17,1.18,1.19,1.18,1.19,1.2,1.18,1.17,1.16,1.15,1.14,1.13,1.14,1.12,1.11,1.13,1.12,1.13,1.14,1.12,1.09,1.08,1.1,1.11,1.1,1.1,1.12,1.115,1.11,1.12,1.1,1.09,1.1,1.11,1.105,1.1,1.11,1.105,1.14,1.12,1.1,1.12,1.1,1.095,1.105,1.12,1.16,1.145,1.14,1.148,1.11,1.11,1.17,1.156]

d2022 = [1,4,7,10,13,16,19,22,25,28,31,34,37,40,43,46,49,52,55,58,61,64,67,70,73,76,79,82,85,88,91,94,97,100,103,106,109,112,115,118,121,124,127,130,133,136,139,142,145,148,151,154,157,160,163,166,169,172,175,178,181,184,187,190,193,196,199,202,205,208,211,214,217,220,223,226,229,232,235,238,241,244,247,250,253,256,259,262,265,268,271,274,277,280,283,286,289,292,295,298,301,304,307,310,313,316,319,322,325,328,331,334,337,340,343,346,349,352,355,358,361,364,366]
v2022 = [1.0,0.98,0.95,0.93,0.9,0.88,0.9,0.87,0.85,0.84,0.83,0.84,0.86,0.85,0.87,0.89,0.88,0.9,0.92,0.93,0.95,0.96,0.98,1.0,1.02,1.0,0.99,0.97,0.99,1.01,1.03,1.02,1.04,1.06,1.05,1.03,1.06,1.08,1.1,1.09,1.07,1.05,1.03,1.0,0.98,0.99,1.02,1.05,1.08,1.12,1.15,1.13,1.14,1.12,1.1,1.08,1.06,1.05,1.0,1.03,1.05,1.07,1.1,1.15,1.2,1.18,1.12,1.07,1.05,1.02,1.0,0.98,0.96,0.95,0.92,0.91,0.9,0.92,0.9,0.93,0.97,0.99,1.01,1.02,1.03,1.01,1.0,1.02,1.04,1.03,1.01,1.0,0.98,0.97,0.99,1.0,1.01,1.03,1.01,1.0,0.995,1.03,1.03,1.02,0.98,0.97,0.95,0.96,0.97,0.95,0.98,0.96,0.99,1.03,1.03,1.06,1.02,1.01,1.0,1.01,1.0,1.0,0.998]

d2015 = [1,4,7,10,13,16,19,22,25,28,31,34,37,40,43,46,49,52,55,58,61,64,67,70,73,76,79,82,85,88,91,94,97,100,103,106,109,112,115,118,121,124,127,130,133,136,139,142,145,148,151,154,157,160,163,166,169,172,175,178,181,184,187,190,193,196,199,202,205,208,211,214,217,220,223,226,229,232,235,238,241,244,247,250,253,256,259,262,264,265,267,269,271,272,274,275,277,281,282,283,284,288,291,294,296,298,301,303,304.5,306,307.4,309.5,313.2,317,320,324,325.7,329.5,331.5,333.2,334.5,336.5,339.9,341.5,346.5,348.2,353,354.9,359,362,364,366]
v2015 = [1.0,0.98,0.97,0.96,0.96,0.94,0.92,0.9,0.88,0.87,0.86,0.88,0.9,0.89,0.91,0.93,0.92,0.9,0.89,0.9,0.92,0.95,0.97,0.99,1.01,1.0,1.02,1.04,1.03,1.05,1.07,1.06,1.05,1.07,1.08,1.07,1.05,1.04,1.02,1.0,0.99,0.97,0.96,0.94,0.95,0.93,0.92,0.94,0.96,0.99,1.02,1.0,0.98,0.96,0.94,0.93,0.92,0.925,0.93,0.92,0.91,0.93,0.95,0.96,0.955,0.945,0.95,0.94,0.92,0.905,0.9,0.91,0.93,0.935,0.935,0.93,0.94,0.93,0.92,0.91,0.9,0.91,0.93,0.94,0.93,0.91,0.89,0.86,0.82,0.907,0.974,0.98,0.984,0.943,0.943,0.829,0.803,0.8,0.793,0.83,0.805,0.8,0.85,0.86,0.9,0.9,0.92,0.884,0.849,0.89,0.952,0.952,0.907,0.92,0.933,0.93,0.965,0.946,0.974,0.987,1.023,1.004,0.997,0.972,0.965,0.991,0.984,0.959,0.965,0.98,0.99,0.993]

d2012 = [1,4,7,10,13,16,19,22,25,28,31,34,37,40,43,46,49,52,55,58,61,64,67,70,73,76,79,82,85,88,91,94,97,100,103,106,109,112,115,118,121,124,127,130,133,136,139,142,145,148,151,154,157,160,163,166,169,172,175,178,181,184,187,190,193,196,199,202,205,208,211,214,217,220,223,226,229,232,235,238,241,244,247,250,253,256,259,262,265,268,271,274,277,280,283,286,289,292,295,297,298.6,300.3,304.9,306.6,308.2,310.3,312.4,314.1,316.6,320.7,326.5,329,331.5,332.4,334.5,336.5,338.6,339.9,341.5,343.6,345.7,348.2,350.3,355.7,357.4,360.2,363,366]
v2012 = [1.0,0.99,1.0,1.02,1.03,1.01,0.98,0.96,0.95,0.93,0.9,0.92,0.93,0.95,0.96,0.95,0.94,0.96,0.97,0.99,1.0,1.02,1.04,1.05,1.06,1.07,1.09,1.1,1.08,1.09,1.11,1.12,1.1,1.09,1.11,1.08,1.06,1.04,1.05,1.03,1.02,1.0,0.98,0.97,0.99,0.98,0.96,0.97,0.99,1.0,0.98,0.97,0.95,0.96,0.98,0.97,0.95,0.94,0.93,0.92,0.94,0.95,0.96,0.97,0.96,0.97,0.98,0.96,0.95,0.94,0.93,0.92,0.93,0.95,0.94,0.92,0.9,0.89,0.9,0.92,0.94,0.96,0.95,0.96,0.97,0.96,0.94,0.93,0.95,0.96,0.95,0.93,0.92,0.9,0.88,0.87,0.86,0.87,0.858,0.84,0.816,0.81,0.81,0.878,0.878,0.842,0.874,0.907,0.91,0.93,0.952,0.952,0.984,0.997,0.991,1.01,1.017,0.991,0.939,0.935,0.907,0.93,0.94,0.952,0.96,0.965,0.975,0.987]

d2011 = [1,3,6,9,12,14,17,19,21,23,25,27,29,31,34,37,40,43,46,49,52,55,58,61,63,65,67,70,73,76,79,82,85,88,91,94,97,100,103,106,109,112,115,118,121,124,127,130,133,136,139,142,145,148,151,154,157,160,163,166,169,172,175,178,181,184,187,190,193,196,199,202,205,208,211,214,217,220,223,226,229,232,235,238,241,244,247,250,253,256,259,262,265,268,271,274,277,280,283,286,289,292,295,298,301,304,307,310,313,316,319,322,325,328,331,334,337,340,343,346,349,352,355,358,361,364,366]
v2011 = [1.0,0.98,0.95,0.92,0.9,0.87,0.85,0.84,0.88,0.9,0.86,0.85,0.86,0.84,0.82,0.8,0.82,0.84,0.84,0.84,0.83,0.82,0.82,0.84,0.84,0.87,0.9,0.92,0.94,0.95,0.96,0.97,0.96,0.95,0.97,0.99,1.0,0.99,0.98,1.0,1.02,1.04,1.03,1.05,1.08,1.1,1.08,1.05,1.07,1.1,1.12,1.1,1.08,1.06,1.05,1.07,1.06,1.04,1.02,1.0,0.99,1.0,1.02,1.01,0.99,0.97,0.96,0.97,0.95,0.94,0.95,0.97,0.99,0.98,0.96,0.94,0.93,0.91,0.92,0.94,0.96,0.97,0.98,0.99,0.97,0.96,0.95,0.97,0.99,1.01,1.0,0.98,0.96,0.97,0.99,1.01,1.0,0.98,0.96,0.94,0.95,0.97,0.96,0.95,0.93,0.92,0.93,0.95,0.94,0.92,0.9,0.91,0.93,0.92,0.9,0.89,0.91,0.93,0.92,0.9,0.89,0.91,0.92,0.93,0.92,0.91,0.92]

# ---------------- styles ----------------
background_years = [
    ("2017", d2017, v2017, "#ddd6b2", 1.6),
    ("2011", d2011, v2011, "#c4bf98", 1.8),
    ("2022", d2022, v2022, "#cdc7a2", 1.8),
    ("2016", d2016, v2016, "#8f8c72", 2.4),
    ("2013", d2013, v2013, "#a09c7e", 2.4),
    ("2023", d2023, v2023, "#7b7862", 2.6),
    ("2012", d2012, v2012, "#6f6d5b", 2.6),
    ("2015", d2015, v2015, "#5a5949", 2.8),
    ("2018", d2018, v2018, "#3e3d33", 3.0),
    ("2021", d2021, v2021, "#2e2e28", 3.0),
    ("2019", d2019, v2019, "#1f1f1c", 3.0),
]
highlight_years = [
    ("2010", d2010, v2010, "#006400", 8),
    ("2014", d2014, v2014, "#006400", 7),
    ("2024", d2024, v2024, "#8b0000", 6),
    ("2020", d2020, v2020, "#8b0000", 8),
    ("2025", d2025, v2025, "#000000", 10),
]
label_y = {"2014": 1.97, "2010": 1.81, "2025": 0.89, "2024": 0.672, "2020": 0.52}
label_x = 355.8

BG = "#d5e4eb"
FONT = "DejaVu Sans"

fig = go.Figure()
for name, d, v, col, w in background_years + highlight_years:
    fig.add_trace(go.Scatter(x=d, y=v, mode="lines", name=name,
                             line=dict(color=col, width=w), showlegend=False,
                             hoverinfo="skip"))

for name, y in label_y.items():
    fig.add_annotation(x=label_x, y=y, xref="x", yref="y", text=name,
                       showarrow=False, font=dict(family=FONT, size=44, color="#707070"),
                       bgcolor="rgba(242,246,248,0.6)", bordercolor="rgba(80,80,80,0.65)",
                       borderwidth=2, borderpad=0, width=144, height=58,
                       xanchor="center", yanchor="middle")

# title, subtitle, y-title, watermark
fig.add_annotation(x=0.001, y=1.0727, xref="paper", yref="paper", text="<b>INDUSINDBK</b>",
                   showarrow=False, xanchor="left", yanchor="middle", height=50,
                   font=dict(family=FONT, size=68, color="black"))
fig.add_annotation(x=0.0, y=1.0310, xref="paper", yref="paper", text="2010:2026-01-12",
                   showarrow=False, xanchor="left", yanchor="middle", height=34,
                   font=dict(family=FONT, size=44, color="black"))
fig.add_annotation(x=-0.0395, y=0.5, xref="paper", yref="paper", text="growth of Rs. 1",
                   showarrow=False, textangle=-90, xanchor="center", yanchor="middle",
                   font=dict(family="DejaVu Sans Condensed, DejaVu Sans", size=44, color="black"))
fig.add_annotation(x=0.0012, y=0.0658, xref="paper", yref="paper", text="<b>@StockViz</b>",
                   showarrow=False, xanchor="left", yanchor="middle",
                   font=dict(family=FONT, size=72, color="rgba(248,251,252,0.85)"))

fig.update_layout(
    width=3600, height=1800,
    margin=dict(l=198, r=42, t=175, b=303),
    paper_bgcolor=BG, plot_bgcolor=BG,
    font=dict(family=FONT, color="black"),
    showlegend=False,
)
fig.update_xaxes(range=[1, 366], tickvals=tick_days, ticktext=tick_labels,
                 tickangle=-90, showgrid=False, zeroline=False,
                 showline=True, linecolor="black", linewidth=3,
                 ticks="inside", ticklen=20, tickwidth=3, tickcolor="black",
                 tickfont=dict(family=FONT, size=44, color="black"),
                 ticklabelstandoff=40)
fig.update_yaxes(range=[0.097, 2.245], tickvals=[0.5, 1.0, 1.5, 2.0],
                 ticktext=["0.5", "1.0", "1.5", "2.0"],
                 showgrid=True, gridcolor="white", gridwidth=6,
                 zeroline=False, showline=False, ticks="",
                 tickfont=dict(family=FONT, size=44, color="black"),
                 ticklabelstandoff=42)

fig.write_html("out.html", config={"displayModeBar": False},
               post_script="document.body.style.margin='0';document.body.style.overflow='hidden';")
